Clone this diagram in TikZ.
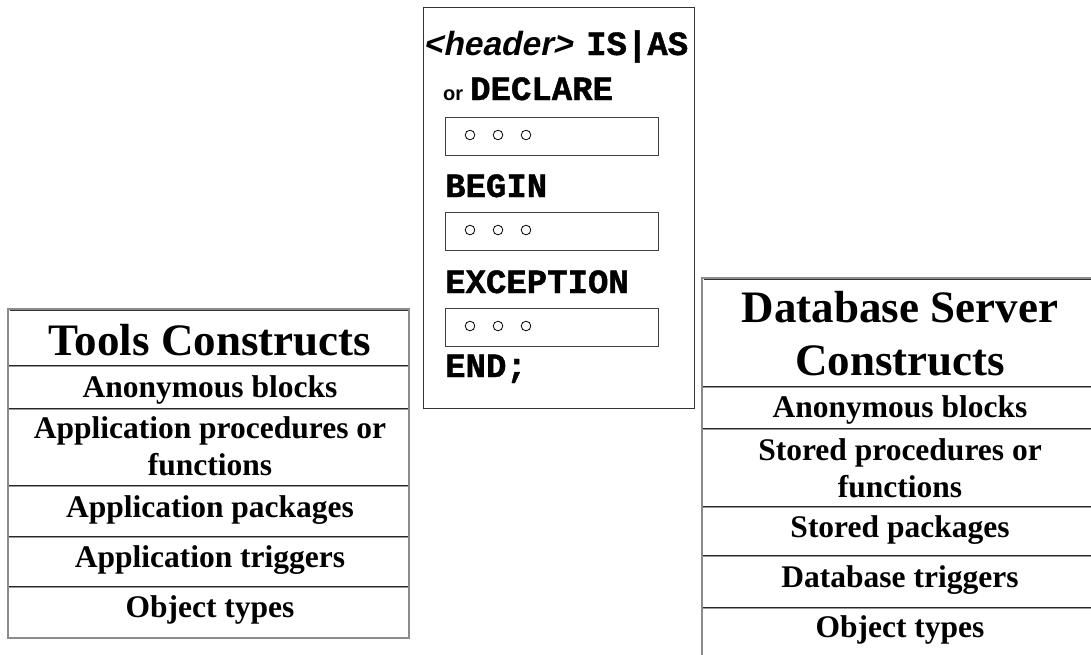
\documentclass[tikz,border=0pt]{standalone}
\usepackage{fontspec}
\setmainfont{Liberation Serif}
\newfontfamily\hsans{Liberation Sans}
\newfontfamily\hsbi[FakeSlant=0.21]{Liberation Sans}
\newfontfamily\cour[BoldFeatures={FakeBold=1.2}]{Liberation Mono}
\begin{document}
\begin{tikzpicture}[x=1pt,y=-1pt,
  outergray/.style={draw=black!45, line width=2pt},
  outerdark/.style={draw=black!80, line width=0.9pt},
  sepdark/.style={draw=black!85, line width=1pt},
  sepgray/.style={draw=black!40, line width=1.4pt},
  title/.style={anchor=base, inner sep=0pt, font=\fontsize{45}{52}\selectfont\bfseries},
  rowtxt/.style={anchor=base, inner sep=0pt, font=\fontsize{31.5}{37}\selectfont\bfseries},
  code/.style={anchor=base west, inner sep=0pt, font=\fontsize{34}{40}\selectfont\cour\bfseries},
  slot/.style={draw=black!75, line width=1pt},
  dot/.style={draw=black, line width=0.8pt}]
\useasboundingbox (0,0) rectangle (1091,654);

% ---------- middle block ----------
\draw[draw=black!80, line width=1pt] (423,7) rectangle (694,408);
\node[anchor=base west, inner sep=0pt] (hdr) at (423,55)
  {{\hsbi\bfseries\fontsize{33.5}{40}\selectfont <header>}\hspace{14pt}{\cour\bfseries\fontsize{34}{40}\selectfont IS|AS}};
\node[anchor=base west, inner sep=0pt] (decl) at (443,100)
  {{\hsans\bfseries\fontsize{20}{24}\selectfont or}\hspace{7pt}{\cour\bfseries\fontsize{34}{40}\selectfont DECLARE}};
\node[code] (beg) at (445,197) {BEGIN};
\node[code] (exc) at (445,293) {EXCEPTION};
\node[code] (endk) at (445,377) {END;};
\foreach \y/\n in {117/a,212/b,308/c}{
  \draw[slot] (445,\y) rectangle (658,\y+38);
  \foreach \x in {470,498,526}{
    \draw[dot] (\x,\y+18) circle (4.8pt);
  }
}

% ---------- left table ----------
\draw[outergray] (8,309) rectangle (409,638);
\draw[outerdark] (9.5,310.5) -- (407.5,310.5);
\foreach \y in {365,408,485,536,586}{
  \draw[sepdark] (9,\y) -- (408,\y);
  \draw[sepgray] (9,\y+1.7) -- (408,\y+1.7);
}
\node[title] (lt) at (210,355) {Tools Constructs};
\node[rowtxt] (l1) at (210,397) {Anonymous blocks};
\node[rowtxt] (l2a) at (210,438) {Application procedures or};
\node[rowtxt] (l2b) at (210,475) {functions};
\node[rowtxt] (l3) at (210,517) {Application packages};
\node[rowtxt] (l4) at (210,567) {Application triggers};
\node[rowtxt] (l5) at (210,617) {Object types};

% ---------- right table ----------
\draw[outergray] (1100,278) -- (702,278) -- (702,680);
\draw[outerdark] (1100,279.5) -- (703.5,279.5);
\foreach \y in {386,428,506,555,607}{
  \draw[sepdark] (703,\y) -- (1100,\y);
  \draw[sepgray] (703,\y+1.7) -- (1100,\y+1.7);
}
\node[title] (rt1) at (900,322) {Database Server};
\node[title] (rt2) at (900,375) {Constructs};
\node[rowtxt] (r1) at (900,417) {Anonymous blocks};
\node[rowtxt] (r2a) at (900,460) {Stored procedures or};
\node[rowtxt] (r2b) at (900,497) {functions};
\node[rowtxt] (r3) at (900,537) {Stored packages};
\node[rowtxt] (r4) at (900,587) {Database triggers};
\node[rowtxt] (r5) at (900,637) {Object types};
\end{tikzpicture}
\end{document}
